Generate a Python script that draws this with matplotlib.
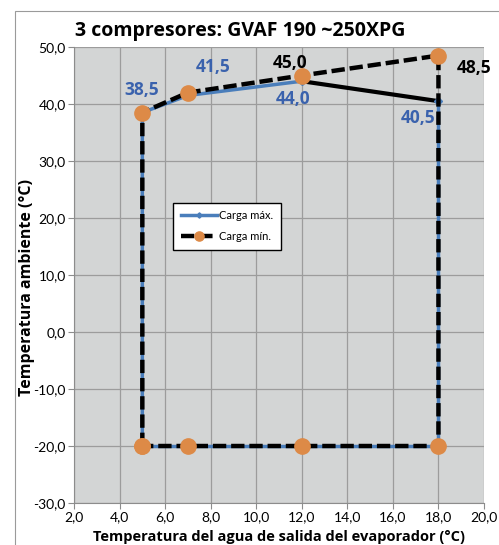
import matplotlib
matplotlib.use("Agg")
import matplotlib.pyplot as plt
from matplotlib.patches import Rectangle

plt.rcParams['font.family'] = ['Lato', 'DejaVu Sans']
BOLD = ['Open Sans', 'DejaVu Sans']

# Carga max (blue)
max_x = [5, 5, 7, 12]
max_y = [-20, 38.5, 41.5, 44.0]
# the 12 -> 18 segment drawn in black
seg_x = [12, 18]
seg_y = [44.0, 40.5]
# down the right side and along the bottom
max2_x = [18, 18, 5]
max2_y = [40.5, -20, -20]

# Carga min (black dashed, orange markers)
min_x = [5, 5, 7, 12, 18, 18, 12, 7, 5]
min_y = [-20, 38.5, 42.0, 45.0, 48.5, -20, -20, -20, -20]

blue = '#4a7ebb'
lblue = '#3a62ad'
orange = '#dd8a47'

fig = plt.figure(figsize=(4.99, 5.45), dpi=100)
ax = fig.add_axes([74/499, 1-503/545, 410/499, 456/545])
ax.set_facecolor('#d3d5d5')

# outer chart frame
fig.patches.append(Rectangle((15/499, -0.1), 1.2, 1.1 - 11/545,
                             transform=fig.transFigure, fill=False,
                             edgecolor='#9a9a9a', lw=0.8))

ax.plot(max_x, max_y, color=blue, lw=2.5, marker='D', ms=4.5,
        markerfacecolor=blue, markeredgecolor=blue, zorder=3, label='Carga máx.')
ax.plot(seg_x, seg_y, color='black', lw=3, zorder=3)
ax.plot(max2_x, max2_y, color=blue, lw=2.5, marker='D', ms=4.5,
        markerfacecolor=blue, markeredgecolor=blue, zorder=3)
ax.plot(min_x, min_y, color='black', lw=3.2, dashes=(3.0, 1.1), marker='o',
        ms=11, markerfacecolor=orange, markeredgecolor=orange, zorder=4,
        label='Carga mín.')

# data labels
lab = dict(fontsize=12.5, fontweight='bold', family=BOLD, va='center')
ax.text(4.95, 42.5, '38,5', color=lblue, ha='center', **lab)
ax.text(8.1, 46.5, '41,5', color=lblue, ha='center', **lab)
ax.text(11.6, 40.9, '44,0', color=lblue, ha='center', **lab)
ax.text(17.1, 37.5, '40,5', color=lblue, ha='center', **lab)
ax.text(11.5, 47.2, '45,0', color='black', ha='center', **lab)
ax.text(18.8, 46.3, '48,5', color='black', ha='left', **lab)

ax.set_xlim(2, 20)
ax.set_ylim(-30, 50)
xt = [2, 4, 6, 8, 10, 12, 14, 16, 18, 20]
yt = [-30, -20, -10, 0, 10, 20, 30, 40, 50]
ax.set_xticks(xt)
ax.set_yticks(yt)
ax.set_xticklabels([f'{v:.1f}'.replace('.', ',') for v in xt], fontsize=10)
ax.set_yticklabels([f'{v:.1f}'.replace('.', ',') for v in yt], fontsize=10)
ax.tick_params(length=4, color='#8c8c8c', pad=2)
ax.grid(True, color='#9c9c9c', lw=0.9)
ax.set_axisbelow(True)
for s in ['top', 'right']:
    ax.spines[s].set_visible(False)
for s in ['left', 'bottom']:
    ax.spines[s].set_color('#8c8c8c')

ax.set_xlabel('Temperatura del agua de salida del evaporador (°C)',
              fontsize=10.5, fontweight='bold', family=BOLD)
ax.xaxis.set_label_coords(0.5, -34/456)
ax.xaxis.label.set_va('center')
ax.set_ylabel('Temperatura ambiente (°C)', fontsize=11.5, fontweight='bold',
              family=BOLD)
ax.yaxis.set_label_coords(-47/410, 216/456)
ax.yaxis.label.set_va('center')
fig.text(240/499, 1-31/545, '3 compresores: GVAF 190 ~250XPG', fontsize=14,
         fontweight='bold', family=BOLD, ha='center', va='center')

leg = ax.legend(loc='upper left', bbox_to_anchor=(0.229, 0.671), fontsize=8,
                frameon=True, fancybox=False, edgecolor='black',
                facecolor='white', framealpha=1, handlelength=3.2,
                borderpad=0.7, labelspacing=0.9, handletextpad=0.2,
                markerscale=0.6)
leg.get_frame().set_linewidth(1.0)

fig.savefig('out.png', dpi=100)
